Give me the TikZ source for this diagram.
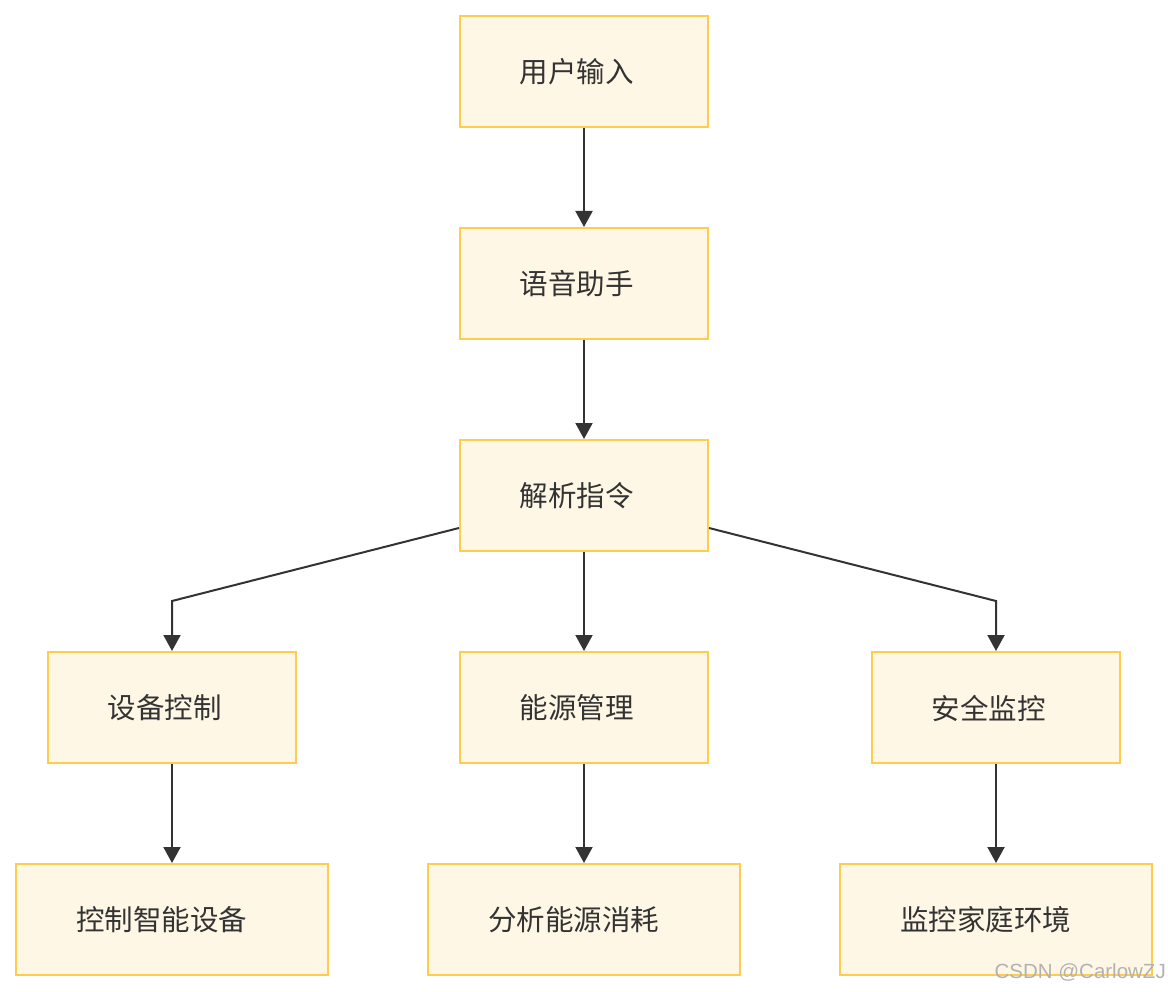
\documentclass[tikz,border=0pt]{standalone}
\usepackage{fontspec}
\setmainfont{Noto Sans CJK SC}
\newfontfamily\wmfont{Liberation Sans}
\usetikzlibrary{arrows.meta}
\definecolor{boxfill}{HTML}{FFF7E6}
\definecolor{boxline}{HTML}{FFCC4D}
\definecolor{ink}{HTML}{333333}
\tikzset{
  box/.style={draw=boxline, fill=boxfill, line width=2pt, minimum width=248pt, minimum height=111pt, inner sep=0pt},
  widebox/.style={box, minimum width=312pt},
  txt/.style={text=ink, font=\fontsize{28.5}{32}\selectfont, inner sep=0pt},
  arr/.style={draw=ink, line width=2pt, -{Triangle[length=16pt,width=17pt]}},
}
\begin{document}
\begin{tikzpicture}[x=1pt,y=-1pt]
\useasboundingbox[fill=white] (0,0) rectangle (1168,992);
\node[box] (a) at (584,71.5) {};
\node[txt] (ta) at (576.5,72) {用户输入};
\node[box] (b) at (584,283.5) {};
\node[txt] (tb) at (576.5,284) {语音助手};
\node[box] (c) at (584,495.5) {};
\node[txt] (tc) at (576.5,496) {解析指令};
\node[box] (d1) at (172,707.5) {};
\node[txt] (td1) at (164.5,708) {设备控制};
\node[box] (d2) at (584,707.5) {};
\node[txt] (td2) at (576.5,708) {能源管理};
\node[box] (d3) at (996,707.5) {};
\node[txt] (td3) at (988.5,708) {安全监控};
\node[widebox] (e1) at (172,919.5) {};
\node[txt] (te1) at (161.5,920) {控制智能设备};
\node[widebox] (e2) at (584,919.5) {};
\node[txt] (te2) at (573.5,920) {分析能源消耗};
\node[widebox] (e3) at (996,919.5) {};
\node[txt] (te3) at (985.5,920) {监控家庭环境};
\coordinate (k1) at (172,601);
\coordinate (k3) at (996,601);
\draw[arr] (a) -- (b);
\draw[arr] (b) -- (c);
\draw[arr] (c) -- (d2);
\draw[arr] ([yshift=-32.5pt]c.west) -- (k1) -- (d1);
\draw[arr] ([yshift=-32.5pt]c.east) -- (k3) -- (d3);
\draw[arr] (d1) -- (e1);
\draw[arr] (d2) -- (e2);
\draw[arr] (d3) -- (e3);
\node[text=black!30, font=\wmfont\fontsize{20.5}{22}\selectfont, inner sep=0pt, anchor=east] (wm) at (1166,972) {CSDN @CarlowZJ};
\end{tikzpicture}
\end{document}
